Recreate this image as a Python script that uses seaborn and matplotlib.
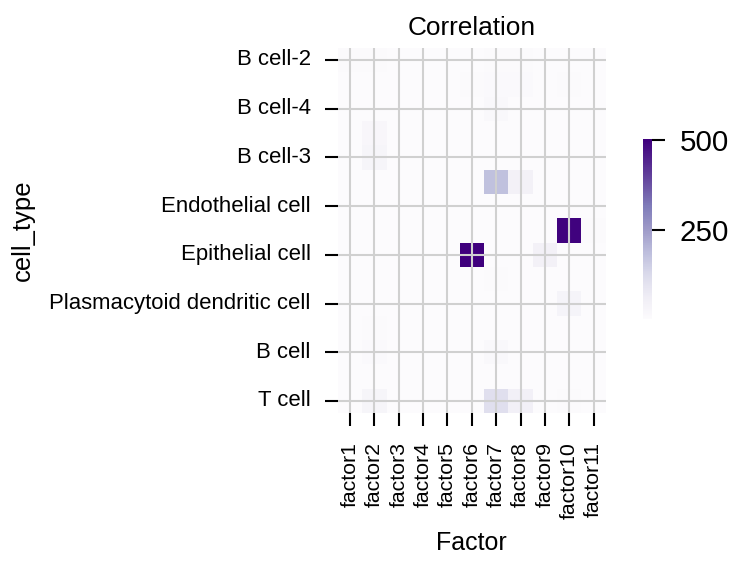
import numpy as np
import pandas as pd
import seaborn as sns
import matplotlib.pyplot as plt

# data (15 cell types x 11 factors)
factors = ['factor1', 'factor2', 'factor3', 'factor4', 'factor5', 'factor6',
           'factor7', 'factor8', 'factor9', 'factor10', 'factor11']
cell_types = ['B cell-2', 'B cell-1', 'B cell-4', 'Fibroblast', 'B cell-3',
              'Macrophage', 'Endothelial cell', 'Mast cell', 'Epithelial cell',
              'Monocyte', 'Plasmacytoid dendritic cell', 'NK cell', 'B cell',
              'Plasma cell', 'T cell']

values = [
    [6, 6, 2, 4, 3, 2, 8, 8, 2, 2, 2],
    [2, 2, 2, 2, 2, 6, 10, 10, 2, 5, 2],
    [2, 4, 2, 2, 2, 2, 16, 2, 2, 2, 2],
    [2, 24, 2, 2, 2, 2, 2, 2, 2, 2, 2],
    [2, 30, 2, 2, 4, 4, 4, 2, 2, 4, 2],
    [2, 2, 2, 2, 2, 2, 180, 45, 2, 2, 2],
    [1, 1, 1, 1, 1, 1, 1, 1, 1, 1, 1],
    [2, 2, 2, 2, 2, 2, 2, 2, 2, 498, 8],
    [2, 2, 2, 2, 2, 502, 2, 2, 45, 2, 2],
    [2, 2, 2, 2, 2, 2, 5, 2, 2, 2, 2],
    [2, 2, 2, 2, 2, 2, 2, 2, 2, 35, 2],
    [2, 6, 2, 2, 2, 2, 2, 2, 2, 2, 2],
    [2, 12, 2, 2, 2, 2, 15, 2, 2, 2, 2],
    [2, 2, 2, 2, 2, 2, 2, 2, 2, 2, 2],
    [2, 30, 2, 2, 2, 2, 110, 50, 2, 8, 2],
]

df = pd.DataFrame(values, index=cell_types, columns=factors)
df.index.name = 'cell_type'
df.columns.name = 'Factor'

sns.set_style('whitegrid', {'xtick.bottom': True, 'ytick.left': True,
                            'axes.axisbelow': False, 'grid.color': '#d0d0d0',
                            'text.color': 'black', 'axes.labelcolor': 'black',
                            'xtick.color': 'black', 'ytick.color': 'black'})
plt.rcParams['font.family'] = ['Liberation Sans', 'DejaVu Sans']
plt.rcParams['xtick.major.size'] = 6.3
plt.rcParams['ytick.major.size'] = 6.3
plt.rcParams['xtick.major.width'] = 1
plt.rcParams['ytick.major.width'] = 1
plt.rcParams['xtick.major.pad'] = 7.5
plt.rcParams['ytick.major.pad'] = 6.7
plt.rcParams['grid.linewidth'] = 1

fig = plt.figure(figsize=(746 / 150, 569 / 150), dpi=150)
ax = fig.add_axes([0.453, 0.274, 0.359, 0.642])
cax = fig.add_axes([0.862, 0.439, 0.012, 0.316])

sns.heatmap(df, cmap='Purples', ax=ax, cbar_ax=cax, yticklabels=2,
            xticklabels=1)
ax.set_axisbelow(False)
ax.grid(True)
ax.set_title('Correlation', fontsize=12.6)
ax.set_xlabel('Factor', fontsize=12, labelpad=6)
ax.set_ylabel('cell_type', fontsize=12.3, labelpad=7)
ax.tick_params(axis='y', labelsize=10.6, rotation=0)
ax.tick_params(axis='x', labelsize=10.2, rotation=90)

cax.grid(False)
cax.set_yticks([250, 500])
cax.tick_params(labelsize=14.2, length=6.3, width=1, pad=7, colors='black')

fig.savefig('out.png', dpi=150)
